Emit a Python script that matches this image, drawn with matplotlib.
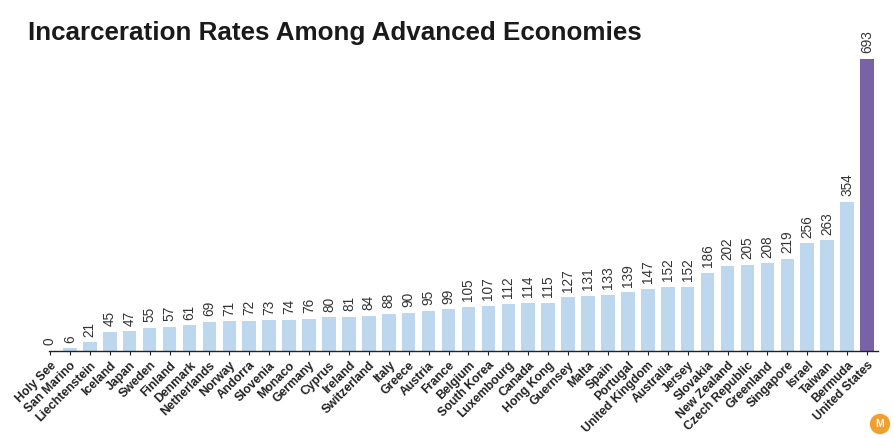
import matplotlib
matplotlib.use("Agg")
import matplotlib.pyplot as plt
from matplotlib.patches import Circle

countries = ["Holy See", "San Marino", "Liechtenstein", "Iceland", "Japan", "Sweden",
             "Finland", "Denmark", "Netherlands", "Norway", "Andorra", "Slovenia",
             "Monaco", "Germany", "Cyprus", "Ireland", "Switzerland", "Italy", "Greece",
             "Austria", "France", "Belgium", "South Korea", "Luxembourg", "Canada",
             "Hong Kong", "Guernsey", "Malta", "Spain", "Portugal", "United Kingdom",
             "Australia", "Jersey", "Slovakia", "New Zealand", "Czech Republic",
             "Greenland", "Singapore", "Israel", "Taiwan", "Bermuda", "United States"]
rates = [0, 6, 21, 45, 47, 55, 57, 61, 69, 71, 72, 73, 74, 76, 80, 81, 84, 88, 90,
         95, 99, 105, 107, 112, 114, 115, 127, 131, 133, 139, 147, 152, 152, 186,
         202, 205, 208, 219, 256, 263, 354, 693]
highlight = "United States"
title = "Incarceration Rates Among Advanced Economies"

W, H = 894, 438
fig = plt.figure(figsize=(W / 100, H / 100), dpi=100)
plt.rcParams['font.family'] = ['Liberation Sans', 'DejaVu Sans']

ax = fig.add_axes([49 / W, 87 / H, (878 - 49) / W, (351 - 20) / H])
x = list(range(len(countries)))
colors = ["#7A62A6" if c == highlight else "#BDD7EE" for c in countries]
ax.bar(x, rates, width=0.68, color=colors)
ax.set_xlim(-0.05, 41.55)
ax.set_ylim(0, 785)

for xi, v in zip(x, rates):
    ax.annotate(str(v), (xi, v), xytext=(0, 4), textcoords="offset points",
                rotation=90, ha="center", va="bottom", fontsize=9.8, color="#333333")

ax.set_xticks(x)
ax.set_xticklabels(countries, rotation=45, ha="right", rotation_mode="anchor",
                   fontsize=8.8, fontweight="bold", color="#222222")
ax.tick_params(axis="x", length=3, width=0.8, color="#222222", pad=3)
ax.set_yticks([])
for s in ["top", "right", "left"]:
    ax.spines[s].set_visible(False)
ax.spines["bottom"].set_color("#222222")
ax.spines["bottom"].set_linewidth(1.0)

fig.text(28 / W, 1 - 33 / H, title, fontsize=18.7, fontweight="bold",
         ha="left", va="center", color="#1a1a1a")

# logo
lx, ly, r = 880, 424, 9.5
circ = Circle((lx / 100, (H - ly) / 100), r / 100, transform=fig.dpi_scale_trans,
              color="#F0A030", zorder=5)
fig.patches.append(circ)
fig.text(lx / W, 1 - ly / H, "M", fontsize=7.5, fontweight="bold", color="white",
         ha="center", va="center", zorder=10)

fig.savefig("out.png", dpi=100)
